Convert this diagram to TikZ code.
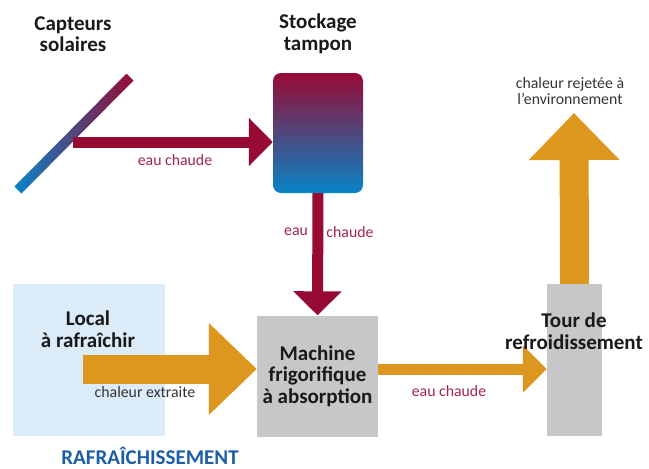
\documentclass[tikz,border=0pt]{standalone}
\usepackage{fontspec}
\setmainfont{Carlito}
\usetikzlibrary{arrows.meta, calc}

\definecolor{hotred}{HTML}{970A34}
\definecolor{coolblue}{HTML}{0884C6}
\definecolor{heatorange}{HTML}{DD961E}
\definecolor{blockgray}{HTML}{C6C7C9}
\definecolor{localblue}{HTML}{DBEBF7}
\definecolor{labelred}{HTML}{A0244F}
\definecolor{titleblue}{HTML}{1C5EA8}

\begin{document}
\begin{tikzpicture}[x=1pt, y=-1pt]
    % Define display style
    \tikzstyle{title}=[font=\fontsize{21}{21.5}\selectfont\bfseries, align=center, text=black!90, inner sep=0pt]
    \tikzstyle{flowlabel}=[font=\fontsize{15.8}{15.5}\selectfont, text=labelred, inner sep=0pt]
    \tikzstyle{heatlabel}=[font=\fontsize{15.8}{15.5}\selectfont, text=black!80, align=center, inner sep=0pt]
    \tikzstyle{block}=[fill=blockgray, inner sep=0pt]
    \tikzstyle{waterpipe}=[hotred, line width=11pt, -{Triangle[length=24pt, width=47pt]}]
    \tikzstyle{heatflow}=[heatorange, line width=29pt, -{Triangle[length=48pt, width=89pt]}]

    % Define coordinates
    \newcommand\FlowY{369}
    \newcommand\SolarY{142}

    \useasboundingbox (0,0) rectangle (649,469);

    % Draw the solar collector
    \shade[left color=coolblue, right color=hotred]
        (14.5,186.5) -- (21.5,193.5) -- (133.5,80.5) -- (126.5,73.5) -- cycle;
    \coordinate (solarout) at (73,\SolarY);

    % Draw the boxes
    \node[rounded corners=8pt, top color=hotred, bottom color=coolblue,
        minimum width=90pt, minimum height=120pt] (tank) at (318,133) {};
    \node[fill=localblue, minimum width=152pt, minimum height=152pt] (local) at (89,360) {};
    \node[block, minimum width=121pt, minimum height=121pt, title] (machine) at (317.5,376)
        {Machine\\frigorifique\\à absorption};
    \node[block, minimum width=55pt, minimum height=152pt] (tour) at (574.5,360) {};

    % Titles
    \node[title] (captitle) at (73,34) {Capteurs\\solaires};
    \node[title] (tanktitle) at (318,34) {Stockage\\tampon};
    \node[title] (localtitle) at (88,329) {Local\\à rafraîchir};
    \node[title, text=titleblue] (cooling) at (150,455.5) {RAFRAÎCHISSEMENT};

    % Draw the hot water pipes
    \draw[waterpipe] (solarout) -- (solarout -| tank.west);
    \draw[waterpipe] (tank.south) -- (machine.north);

    % Draw the heat flows
    \coordinate (heatin) at (83,\FlowY);
    \draw[heatflow] (heatin) -- (heatin -| machine.west);
    \coordinate (towerin) at (machine.east |- heatin);
    \draw[heatorange, line width=11pt, -{Triangle[length=24pt, width=46pt]}]
        (towerin) -- (towerin -| tour.west);
    \coordinate (heatout) at (574,113);
    \draw[heatflow, -{Triangle[length=47pt, width=88pt]}] (tour.north) -- (heatout);
    \node[title] (tourtitle) at (574,331) {Tour de\\refroidissement};

    % Flow labels
    \node[flowlabel] (lblsolar) at (175,160) {eau chaude};
    \node[flowlabel] (lbleau) at (296,232) {eau};
    \node[flowlabel] (lblchaude) at (350,232) {chaude};
    \node[flowlabel] (lbltower) at (449,391) {eau chaude};
    \node[heatlabel] (lblextract) at (145,392) {chaleur extraite};
    \node[heatlabel] (lblreject) at (570,91) {chaleur rejetée à\\l'environnement};
\end{tikzpicture}
\end{document}
